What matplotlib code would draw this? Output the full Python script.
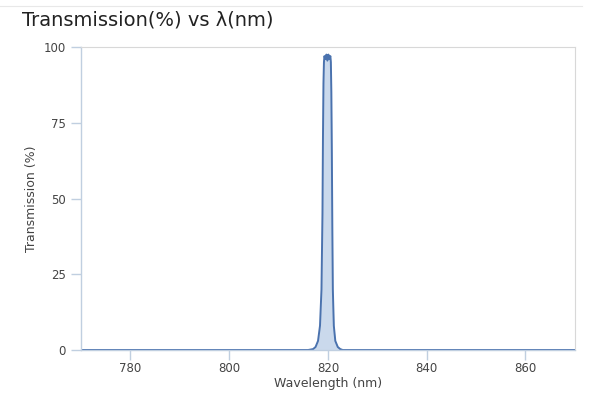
import matplotlib
matplotlib.use("Agg")
import matplotlib.pyplot as plt

# transmission curve
wavelength = [770, 816, 817, 817.5, 818, 818.4, 818.7, 818.9, 819.0, 819.1, 819.2,
              819.3, 819.5, 819.7, 819.9, 820.1, 820.3, 820.5, 820.6, 820.7, 820.8,
              820.9, 821.0, 821.2, 821.5, 822, 822.5, 823, 824, 870]
transmission = [0, 0, 0.3, 1, 3, 8, 20, 45, 70, 88, 95,
                97, 96, 97.5, 95.5, 97.5, 96, 97, 95, 85, 65,
                40, 20, 8, 3, 1, 0.3, 0, 0, 0]

x_ticks = [780, 800, 820, 840, 860]
y_ticks = [0, 25, 50, 75, 100]

line_color = "#4a72ae"
fill_color = "#c5d5ea"
axis_color = "#c0cfe0"
text_color = "#444444"

fig = plt.figure(figsize=(6, 4), dpi=100)
ax = fig.add_axes([0.135, 0.125, 0.823, 0.7575])

ax.fill_between(wavelength, transmission, 0, color=fill_color, alpha=0.9, lw=0)
ax.plot(wavelength, transmission, color=line_color, lw=1.4)

ax.set_xlim(770, 870)
ax.set_ylim(0, 100)
ax.set_xticks(x_ticks)
ax.set_yticks(y_ticks)

for side in ["top", "right"]:
    ax.spines[side].set_color("#d8d8d8")
    ax.spines[side].set_linewidth(0.8)
for side in ["left", "bottom"]:
    ax.spines[side].set_color(axis_color)
    ax.spines[side].set_linewidth(1.0)

ax.tick_params(axis="both", colors=axis_color, labelcolor=text_color,
               labelsize=8.5, length=7, width=1)
ax.tick_params(axis="y", pad=4)
ax.tick_params(axis="x", pad=2)

ax.set_xlabel("Wavelength (nm)", fontsize=9, color=text_color, labelpad=1)
ax.set_ylabel("Transmission (%)", fontsize=9, color=text_color, labelpad=4)

fig.text(0.037, 0.95, "Transmission(%) vs λ(nm)", fontsize=14, color="#222222",
         ha="left", va="center")
fig.add_artist(plt.Line2D([0.0, 0.97], [0.985, 0.985], color="#e8e8e8", lw=0.8))

fig.savefig("out.png", dpi=100)
